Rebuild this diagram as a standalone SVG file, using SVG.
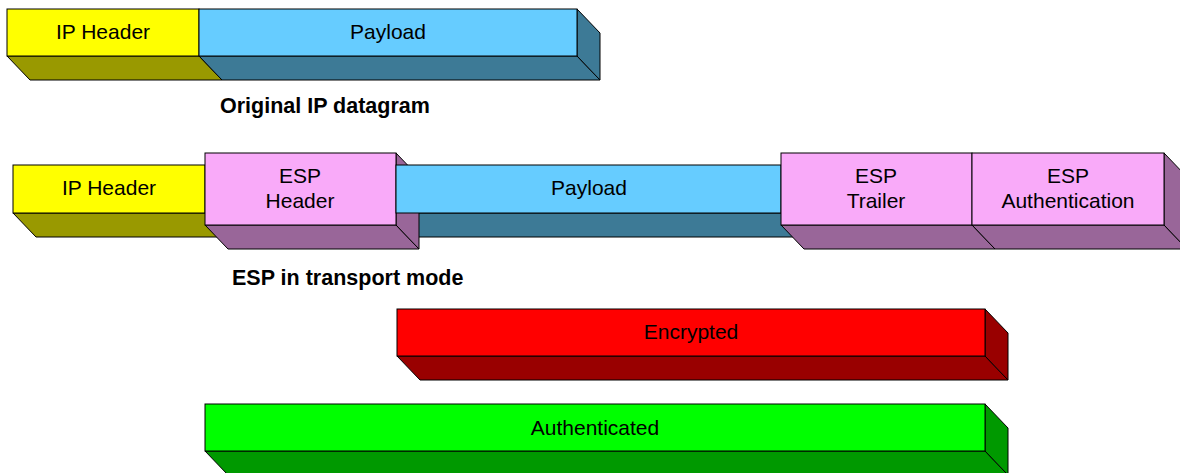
<svg xmlns="http://www.w3.org/2000/svg" width="1180" height="473" viewBox="0 0 1180 473">
<style>
.f{stroke:#000;stroke-width:1}
.lbl{font-family:"Liberation Sans",Arial,sans-serif;font-size:21px;fill:#000;text-anchor:middle}
.cap{font-family:"Liberation Sans",Arial,sans-serif;font-size:21.5px;font-weight:bold;fill:#000}
.y{fill:#FFFF00}.yd{fill:#999900}
.b{fill:#66CCFF}.bd{fill:#3D7A96}
.p{fill:#F9AAF9}.pd{fill:#996699}
.r{fill:#FF0000}.rd{fill:#990000}
.g{fill:#00FF00}.gd{fill:#009900}
</style>
<rect width="1180" height="473" fill="#fff"/>
<g id="orig-ip-header">
<polygon class="f yd" points="7,56 199,56 222,80 30,80"/>
<rect class="f y" x="7" y="9" width="192" height="47"/>
<text class="lbl" x="103" y="39">IP Header</text>
</g>
<g id="orig-payload">
<polygon class="f bd" points="199,56 577,56 600,80 222,80"/>
<polygon class="f bd" points="577,9 600,33 600,80 577,56"/>
<rect class="f b" x="199" y="9" width="378" height="47"/>
<text class="lbl" x="388" y="39">Payload</text>
</g>
<text id="caption-original" class="cap" x="220" y="113">Original IP datagram</text>
<g id="esp-ip-header">
<polygon class="f yd" points="13,213 205,213 228,237 36,237"/>
<rect class="f y" x="13" y="165" width="192" height="48"/>
<text class="lbl" x="109" y="195">IP Header</text>
</g>
<g id="esp-payload-base">
<polygon class="f bd" points="396,213 781,213 804,237 419,237"/>
</g>
<g id="esp-header">
<polygon class="f pd" points="205,225 396,225 419,249 228,249"/>
<polygon class="f pd" points="396,153 419,177 419,249 396,225"/>
<rect class="f p" x="205" y="153" width="191" height="72"/>
<text class="lbl" x="300" y="183">ESP</text>
<text class="lbl" x="300" y="208">Header</text>
</g>
<g id="esp-payload">
<rect class="f b" x="396" y="165" width="385" height="48"/>
<text class="lbl" x="589" y="195">Payload</text>
</g>
<g id="esp-trailer">
<polygon class="f pd" points="781,225 972,225 995,249 804,249"/>
<rect class="f p" x="781" y="153" width="191" height="72"/>
<text class="lbl" x="876" y="183">ESP</text>
<text class="lbl" x="876" y="208">Trailer</text>
</g>
<g id="esp-auth">
<polygon class="f pd" points="972,225 1164,225 1187,249 995,249"/>
<polygon class="f pd" points="1164,153 1187,177 1187,249 1164,225"/>
<rect class="f p" x="972" y="153" width="192" height="72"/>
<text class="lbl" x="1068" y="183">ESP</text>
<text class="lbl" x="1068" y="208">Authentication</text>
</g>
<text id="caption-transport" class="cap" x="232" y="285">ESP in transport mode</text>
<g id="encrypted">
<polygon class="f rd" points="397,356 985,356 1008,380 420,380"/>
<polygon class="f rd" points="985,309 1008,333 1008,380 985,356"/>
<rect class="f r" x="397" y="309" width="588" height="47"/>
<text class="lbl" x="691" y="339">Encrypted</text>
</g>
<g id="authenticated">
<polygon class="f gd" points="205,451 985,451 1008,475 228,475"/>
<polygon class="f gd" points="985,404 1008,428 1008,475 985,451"/>
<rect class="f g" x="205" y="404" width="780" height="47"/>
<text class="lbl" x="595" y="435">Authenticated</text>
</g>
</svg>
